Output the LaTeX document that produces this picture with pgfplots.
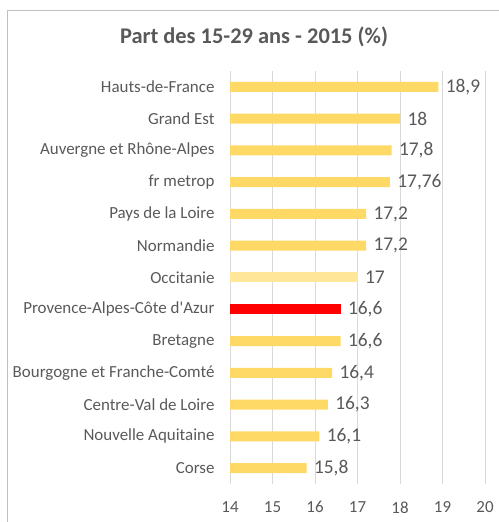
\documentclass[border=0pt]{standalone}
\usepackage{fontspec}
\setmainfont{Carlito}
\usepackage{pgfplots}
\pgfplotsset{compat=1.18}
\definecolor{txt}{HTML}{595959}
\definecolor{gridc}{HTML}{D9D9D9}
\definecolor{bary}{HTML}{FFD966}
\definecolor{barl}{HTML}{FFE699}
\definecolor{barr}{HTML}{FF0000}
\definecolor{framec}{HTML}{BFBFBF}

\begin{document}
\begin{tikzpicture}
\useasboundingbox (0bp,0bp) rectangle (499bp,522bp);
\draw[framec, line width=1.5bp] (7.5bp,-10bp) -- (7.5bp,511.5bp) -- (520bp,511.5bp);
\node[txt, font=\fontsize{22.5}{24}\selectfont\bfseries] at (254bp,485bp) {Part des 15-29 ans - 2015 (\%)};
\begin{axis}[at={(230bp,38bp)}, anchor=south west, scale only axis,
  width=255bp, height=413bp,
  xmin=14, xmax=20, ymin=-0.5, ymax=12.5,
  xbar, bar width=10bp, bar shift=0pt,
  xtick={14,15,...,20}, ytick={0,...,12},
  yticklabels={Corse, Nouvelle Aquitaine, Centre-Val de Loire, Bourgogne et Franche-Comté, Bretagne, Provence-Alpes-Côte d\textquotesingle Azur, Occitanie, Normandie, Pays de la Loire, fr metrop, Auvergne et Rhône-Alpes, Grand Est, Hauts-de-France},
  xmajorgrids, grid style={gridc, line width=0.8bp},
  axis line style={draw=none}, major tick length=0pt,
  tick label style={txt, font=\fontsize{17}{19}\selectfont},
  /pgf/number format/assume math mode=true,
  /pgf/number format/use comma,
  xticklabel style={yshift=-14bp},
  yticklabel style={xshift=-12bp},
  nodes near coords,
  nodes near coords style={txt, font=\fontsize{19.5}{21}\selectfont, anchor=west, xshift=4bp},
  clip=false]
\addplot[draw=none, fill=bary] coordinates {(15.8,0) (16.1,1) (16.3,2) (16.4,3) (16.6,4) (17.2,7) (17.2,8) (17.76,9) (17.8,10) (18,11) (18.9,12)};
\addplot[draw=none, fill=barr] coordinates {(16.6,5)};
\addplot[draw=none, fill=barl] coordinates {(17,6)};
\end{axis}
\end{tikzpicture}
\end{document}
